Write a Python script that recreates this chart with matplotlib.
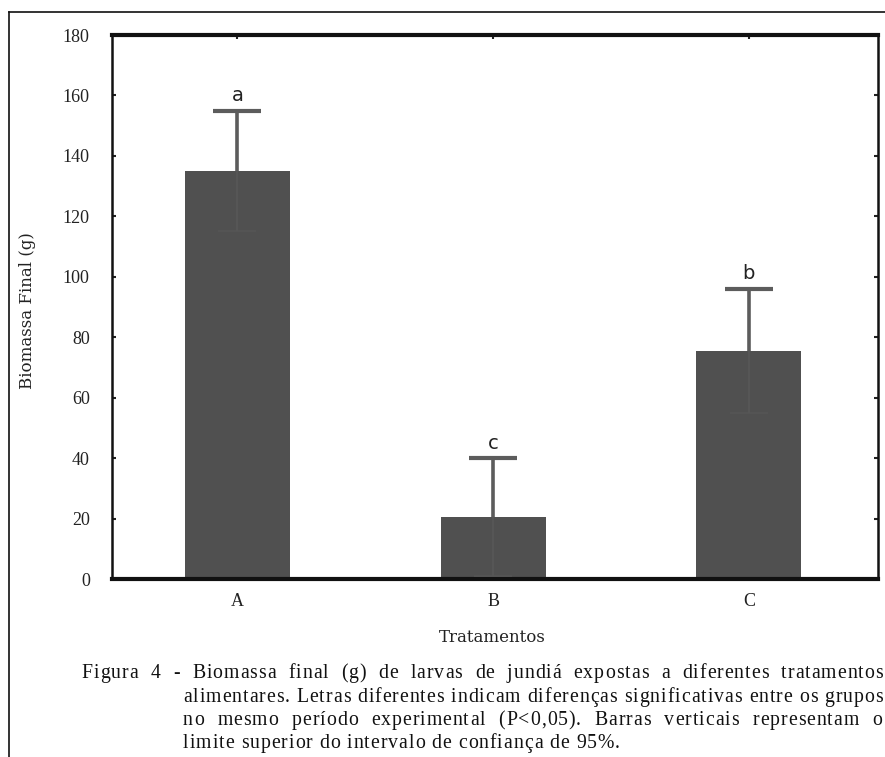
import matplotlib
matplotlib.use("Agg")
import matplotlib.pyplot as plt
import matplotlib.transforms as mtransforms
from matplotlib.lines import Line2D
from matplotlib import font_manager, ft2font

# ---- data ----
categories = ["A", "B", "C"]
means = [135, 20.5, 75.5]
errors = [20, 19.5, 20.5]
letters = ["a", "c", "b"]
yticks = [0, 20, 40, 60, 80, 100, 120, 140, 160, 180]
ylabel = "Biomassa Final (g)"
xlabel = "Tratamentos"
caption_lines = [
    "Figura 4 - Biomassa final (g) de larvas de jundiá expostas a diferentes tratamentos",
    "alimentares. Letras diferentes indicam diferenças significativas entre os grupos",
    "no mesmo período experimental (P<0,05). Barras verticais representam o",
    "limite superior do intervalo de confiança de 95%.",
]

W, H = 885, 757
fig = plt.figure(figsize=(W / 100, H / 100), dpi=100)
fig.patch.set_facecolor("white")

ax = fig.add_axes([112 / W, 1 - 579 / H, (878 - 112) / W, (579 - 35) / H])
x = list(range(len(categories)))
ax.bar(x, means, width=0.41, color="#505050", zorder=2)
zeros = [0] * len(errors)
# upper half of the confidence bars
up = ax.errorbar(x, means, yerr=[zeros, errors], fmt="none", ecolor="#5c5c5c",
                 elinewidth=2.6, capsize=17, capthick=3, zorder=3)
up[1][0].set_visible(False)
# lower half, barely visible inside the bars
lo = ax.errorbar(x, means, yerr=[errors, zeros], fmt="none", ecolor="#565656",
                 elinewidth=1.5, capsize=14, capthick=1.2, zorder=3)
lo[1][1].set_visible(False)
for xi, m, e, l in zip(x, means, errors, letters):
    ax.annotate(l, (xi, m + e), xytext=(0, 4), textcoords="offset points",
                ha="center", va="bottom", fontsize=14, family="DejaVu Sans",
                color="#222222")

ax.set_xlim(-0.49, 2.505)
ax.set_ylim(0, 180)
ax.set_yticks(yticks)
ax.set_xticks(x)
ax.set_xticklabels(categories)
ax.tick_params(axis="both", direction="in", length=3, width=1.5,
               labelsize=13, colors="#222222")
ax.tick_params(axis="y", right=True, pad=16)
ax.tick_params(axis="x", top=True, pad=10)
for lab in ax.get_xticklabels() + ax.get_yticklabels():
    lab.set_family("Liberation Serif")

for side, lw in [("top", 3), ("bottom", 3), ("left", 1.8), ("right", 1.8)]:
    ax.spines[side].set_linewidth(lw)
    ax.spines[side].set_color("#111111")

ax.set_xlabel(xlabel, fontsize=12, family="DejaVu Serif", color="#222222")
ax.xaxis.set_label_coords((492 - 112) / 766, (579 - 638) / 544)
ax.xaxis.label.set_va("center")
ax.set_ylabel(ylabel, fontsize=12, family="DejaVu Serif", color="#222222")
ax.yaxis.set_label_coords((28 - 112) / 766, (579 - 311) / 544)
ax.yaxis.label.set_va("center")

# outer frame (left and top lines)
fig.add_artist(Line2D([9 / W, 9 / W], [0, 1 - 12 / H], transform=fig.transFigure,
                      color="#111111", linewidth=1.2))
fig.add_artist(Line2D([9 / W, 1], [1 - 12 / H, 1 - 12 / H], transform=fig.transFigure,
                      color="#111111", linewidth=1.2))

# caption: letter-spaced, justified lines (advance widths from the font)
ident = mtransforms.IdentityTransform()
FS = 14.2
fpath = font_manager.findfont(font_manager.FontProperties(family="Liberation Serif"))
ft = ft2font.FT2Font(fpath)
ft.set_size(FS, 100)


def adv(c):
    return ft.load_char(ord(c)).linearHoriAdvance / 65536.0


space_w = adv(" ")
# tracking chosen so the tightest line (line 2) has plain word spaces
ref = caption_lines[1]
nat = sum(adv(c) for c in ref)
track = (883 - 183 - nat) / (len(ref) - 1)

specs = [(81.7, 883, 678, True), (183, 883, 702, True),
         (183, 882, 725, True), (183, None, 748, False)]
for line, (x0, x1, ybase, just) in zip(caption_lines, specs):
    words = line.split(" ")
    wwidths = [sum(adv(c) for c in w) + track * (len(w) - 1) for w in words]
    if just:
        gap = (x1 - x0 - sum(wwidths)) / (len(words) - 1)
    else:
        gap = space_w + 2 * track
    cx = x0
    for w, ww in zip(words, wwidths):
        px = cx
        for c in w:
            fig.text(px, H - ybase, c, fontsize=FS, family="Liberation Serif",
                     transform=ident, va="baseline", ha="left", color="#111111")
            px += adv(c) + track
        cx += ww + gap

fig.savefig("out.png", dpi=100)
